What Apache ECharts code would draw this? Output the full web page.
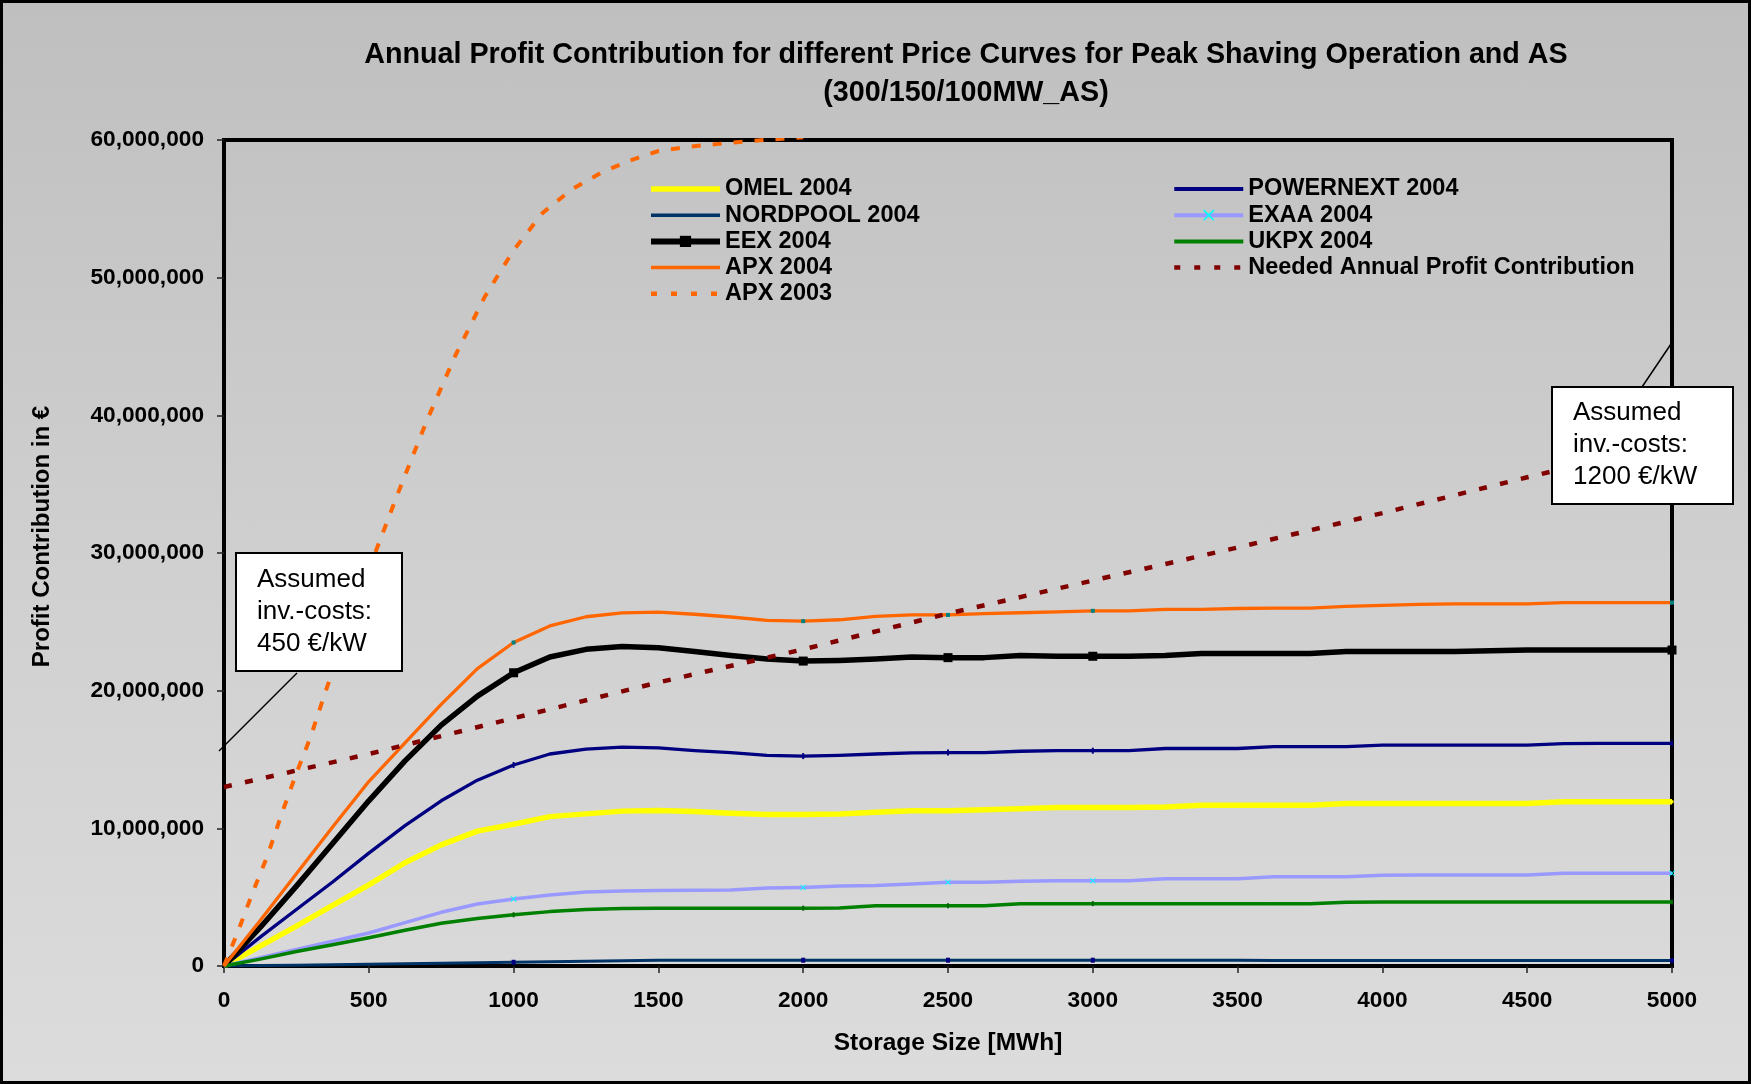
<!DOCTYPE html>
<html>
<head>
<meta charset="utf-8">
<script src="https://cdn.jsdelivr.net/npm/echarts@6/dist/echarts.min.js"></script>
<style>
html,body{margin:0;padding:0;}
#chart{width:1751px;height:1084px;background:linear-gradient(to bottom,#bfbfbf 0%,#cfcfcf 50%,#dcdcdc 100%);}
</style>
</head>
<body>
<div id="chart"></div>
<script>
// ---- data (values in million €) ----
const storage = [0,125,250,375,500,625,750,875,1000,1125,1250,1375,1500,1625,1750,1875,2000,2125,2250,2375,2500,2625,2750,2875,3000,3125,3250,3375,3500,3625,3750,3875,4000,4125,4250,4375,4500,4625,4750,4875,5000];
const omel2004 = [0,1.45,2.9,4.4,5.9,7.5,8.8,9.8,10.3,10.85,11.05,11.25,11.3,11.22,11.1,11.0,11.0,11.05,11.16,11.27,11.28,11.35,11.43,11.52,11.52,11.52,11.55,11.67,11.67,11.67,11.67,11.8,11.81,11.81,11.81,11.81,11.81,11.93,11.93,11.93,11.93];
const powernext2004 = [0,2.1,4.1,6.1,8.2,10.2,12.0,13.5,14.6,15.4,15.75,15.9,15.85,15.65,15.5,15.3,15.25,15.3,15.4,15.48,15.5,15.5,15.6,15.64,15.64,15.64,15.8,15.8,15.8,15.93,15.93,15.93,16.05,16.05,16.05,16.05,16.05,16.15,16.17,16.17,16.17];
const nordpool2004 = [0,0.03,0.06,0.09,0.12,0.16,0.2,0.24,0.27,0.3,0.34,0.38,0.42,0.42,0.42,0.42,0.42,0.42,0.42,0.42,0.42,0.42,0.42,0.42,0.42,0.42,0.42,0.42,0.42,0.4,0.4,0.4,0.4,0.4,0.4,0.4,0.4,0.4,0.4,0.4,0.4];
const exaa2004 = [0,0.6,1.2,1.8,2.4,3.15,3.9,4.5,4.87,5.15,5.38,5.45,5.48,5.5,5.52,5.66,5.71,5.81,5.85,5.95,6.08,6.08,6.15,6.2,6.2,6.2,6.34,6.34,6.34,6.49,6.49,6.49,6.6,6.61,6.61,6.61,6.61,6.73,6.73,6.73,6.73];
const eex2004 = [0,2.8,5.8,8.9,12.0,14.9,17.5,19.6,21.3,22.45,23.0,23.2,23.12,22.85,22.55,22.3,22.15,22.2,22.3,22.45,22.4,22.4,22.55,22.5,22.5,22.5,22.55,22.7,22.7,22.7,22.7,22.85,22.85,22.85,22.85,22.9,22.95,22.95,22.95,22.95,22.95];
const ukpx2004 = [0,0.5,1.05,1.55,2.05,2.6,3.1,3.45,3.72,3.95,4.1,4.18,4.19,4.19,4.19,4.19,4.2,4.22,4.38,4.38,4.38,4.38,4.53,4.53,4.53,4.53,4.53,4.53,4.53,4.53,4.53,4.63,4.65,4.65,4.65,4.65,4.65,4.65,4.65,4.65,4.65];
const apx2004 = [0,3.3,6.7,10.1,13.4,16.2,19.0,21.6,23.5,24.7,25.37,25.65,25.7,25.55,25.35,25.1,25.05,25.15,25.4,25.5,25.5,25.6,25.66,25.72,25.8,25.8,25.9,25.9,25.97,26.0,26.0,26.13,26.2,26.27,26.3,26.3,26.3,26.4,26.4,26.4,26.4];
const apx2003Storage = [0,50,100,150,200,250,300,350,400,500,600,700,800,900,1000,1100,1200,1300,1400,1500,1600,1700,1800,1900,2000];
const apx2003 = [0,2.6,5.4,8.0,11.1,14.0,16.7,19.9,22.9,28.8,34.3,39.6,44.4,48.6,52.0,54.7,56.4,57.6,58.5,59.2,59.5,59.7,59.9,60.05,60.2];
const neededStorage = [0,500,1000,1500,2000,2500,3000,3500,4000,4500,5000];
const neededProfit = [13.0,15.4,18.0,20.6,23.0,25.6,28.0,30.4,32.9,35.5,38.0];
const markerStorage = [1000,2000,2500,3000,5000];
const yTicks = [0,10,20,30,40,50,60];
const xTicks = [0,500,1000,1500,2000,2500,3000,3500,4000,4500,5000];

const FONT = '"Liberation Sans", Arial, sans-serif';
const pairs = (xs, ys) => xs.map((x, i) => [x, ys[i]]);
const markSize = (s) => (v) => (markerStorage.indexOf(v[0]) >= 0 ? s : 0);
const xPath = 'path://M0,1L1,0L5,4L9,0L10,1L6,5L10,9L9,10L5,6L1,10L0,9L4,5Z';

function solid(name, ys, color, width, symbol, size, markColor) {
  return {
    name, type: 'line', data: pairs(storage, ys),
    lineStyle: { color, width, cap: 'butt', join: 'round' },
    itemStyle: { color: markColor || color, borderWidth: 0 },
    symbol, symbolSize: markSize(size), showSymbol: true, showAllSymbol: true,
    animation: false, emphasis: { disabled: true }
  };
}

const series = [
  solid('OMEL 2004', omel2004, '#FFFF00', 5.5, 'rect', 3, '#FFFF00'),
  solid('POWERNEXT 2004', powernext2004, '#000080', 3.3, 'rect', [2, 6], '#000080'),
  solid('NORDPOOL 2004', nordpool2004, '#003366', 3, 'rect', [4, 5], '#000080'),
  solid('EXAA 2004', exaa2004, '#9999FF', 3.5, xPath, 6, '#00FFFF'),
  solid('EEX 2004', eex2004, '#000000', 5.5, 'rect', 9, '#000000'),
  solid('UKPX 2004', ukpx2004, '#008000', 3.5, 'rect', [2, 5], '#006400'),
  solid('APX 2004', apx2004, '#FF6600', 3.3, 'rect', 4, '#008080'),
  {
    name: 'Needed Annual Profit Contribution', type: 'line', data: pairs(neededStorage, neededProfit),
    lineStyle: { color: '#800000', width: 4.5, type: [8, 13.5], cap: 'butt' },
    itemStyle: { color: '#800000' }, symbol: 'none', animation: false, emphasis: { disabled: true }
  },
  {
    name: 'APX 2003', type: 'line', data: pairs(apx2003Storage, apx2003),
    lineStyle: { color: '#FF6600', width: 4, type: [9, 12], cap: 'butt' },
    itemStyle: { color: '#FF6600' }, symbol: 'none', clip: true, animation: false, emphasis: { disabled: true }
  }
];

const hide = { opacity: 0 };
const legendText = { fontFamily: FONT, fontSize: 23.5, fontWeight: 'bold', color: '#000', lineHeight: 22 };
const legendBase = { orient: 'vertical', itemWidth: 69, itemHeight: 14, itemGap: 2.2, padding: 0, textStyle: legendText, selectedMode: false };
const lw = (w, extra) => Object.assign({ width: w }, extra || {});

const chart = echarts.init(document.getElementById('chart'), null, { renderer: 'canvas' });
chart.setOption({
  backgroundColor: 'transparent',
  animation: false,
  title: {
    text: 'Annual Profit Contribution for different Price Curves for Peak Shaving Operation and AS\n(300/150/100MW_AS)',
    left: 966, top: 36, textAlign: 'center', padding: 0,
    textStyle: { fontFamily: FONT, fontSize: 28.7, fontWeight: 'bold', color: '#000', lineHeight: 38 }
  },
  legend: [
    Object.assign({}, legendBase, { left: 648, top: 177, data: [
      { name: 'OMEL 2004', itemStyle: hide, lineStyle: lw(5.5) },
      { name: 'NORDPOOL 2004', itemStyle: hide, lineStyle: lw(3.5) },
      { name: 'EEX 2004', lineStyle: lw(6) },
      { name: 'APX 2004', itemStyle: hide, lineStyle: lw(3.5) },
      { name: 'APX 2003', itemStyle: hide, lineStyle: lw(4.5, { type: [6, 14], dashOffset: 0 }) }
    ] }),
    Object.assign({}, legendBase, { left: 1172, top: 177, data: [
      { name: 'POWERNEXT 2004', itemStyle: hide, lineStyle: lw(4) },
      { name: 'EXAA 2004', lineStyle: lw(4) },
      { name: 'UKPX 2004', itemStyle: hide, lineStyle: lw(4) },
      { name: 'Needed Annual Profit Contribution', itemStyle: hide, lineStyle: lw(4.5, { type: [6, 14] }) }
    ] })
  ],
  grid: { left: 224, top: 140, width: 1448, height: 826, show: true, borderColor: '#000', borderWidth: 4, backgroundColor: 'transparent', containLabel: false },
  xAxis: {
    type: 'value', min: xTicks[0], max: xTicks[xTicks.length - 1], interval: 500,
    name: 'Storage Size [MWh]', nameLocation: 'middle', nameGap: 65,
    nameTextStyle: { fontFamily: FONT, fontSize: 24.5, fontWeight: 'bold', color: '#000' },
    axisLine: { show: false },
    axisTick: { show: true, length: 7, lineStyle: { color: '#222', width: 1.5 } },
    axisLabel: { margin: 23, fontFamily: FONT, fontSize: 22.7, fontWeight: 'bold', color: '#000', formatter: (v) => String(v) },
    splitLine: { show: false }
  },
  yAxis: {
    type: 'value', min: yTicks[0], max: yTicks[yTicks.length - 1], interval: 10,
    name: 'Profit Contribution in €', nameLocation: 'middle', nameGap: 170,
    nameTextStyle: { fontFamily: FONT, fontSize: 24, fontWeight: 'bold', color: '#000', padding: [0, 0, 0, 33] },
    axisLine: { show: false },
    axisTick: { show: true, length: 7, lineStyle: { color: '#222', width: 1.5 } },
    axisLabel: {
      margin: 20, fontFamily: FONT, fontSize: 22.7, fontWeight: 'bold', color: '#000',
      formatter: (v) => (Math.round(v * 1e6)).toLocaleString('en-US')
    },
    splitLine: { show: false }
  },
  series: series,
  graphic: [
    { type: 'rect', silent: true, z: 100, shape: { x: 1.5, y: 1.5, width: 1748, height: 1081 }, style: { fill: 'none', stroke: '#000', lineWidth: 3 } },
    { type: 'line', silent: true, z: 100, shape: { x1: 297, y1: 673, x2: 219, y2: 751 }, style: { stroke: '#000', lineWidth: 1.5 } },
    { type: 'rect', silent: true, z: 101, shape: { x: 236, y: 553, width: 166, height: 118 }, style: { fill: '#fff', stroke: '#000', lineWidth: 2 } },
    { type: 'text', silent: true, z: 102, x: 257, y: 564, style: { text: 'Assumed\ninv.-costs:\n450 €/kW', fontFamily: FONT, fontSize: 26, lineHeight: 32, fill: '#000' } },
    { type: 'line', silent: true, z: 100, shape: { x1: 1642, y1: 387, x2: 1673, y2: 341 }, style: { stroke: '#000', lineWidth: 1.5 } },
    { type: 'rect', silent: true, z: 101, shape: { x: 1552, y: 387, width: 181, height: 117 }, style: { fill: '#fff', stroke: '#000', lineWidth: 2 } },
    { type: 'text', silent: true, z: 102, x: 1573, y: 397, style: { text: 'Assumed\ninv.-costs:\n1200 €/kW', fontFamily: FONT, fontSize: 26, lineHeight: 32, fill: '#000' } }
  ]
});
</script>
</body>
</html>
